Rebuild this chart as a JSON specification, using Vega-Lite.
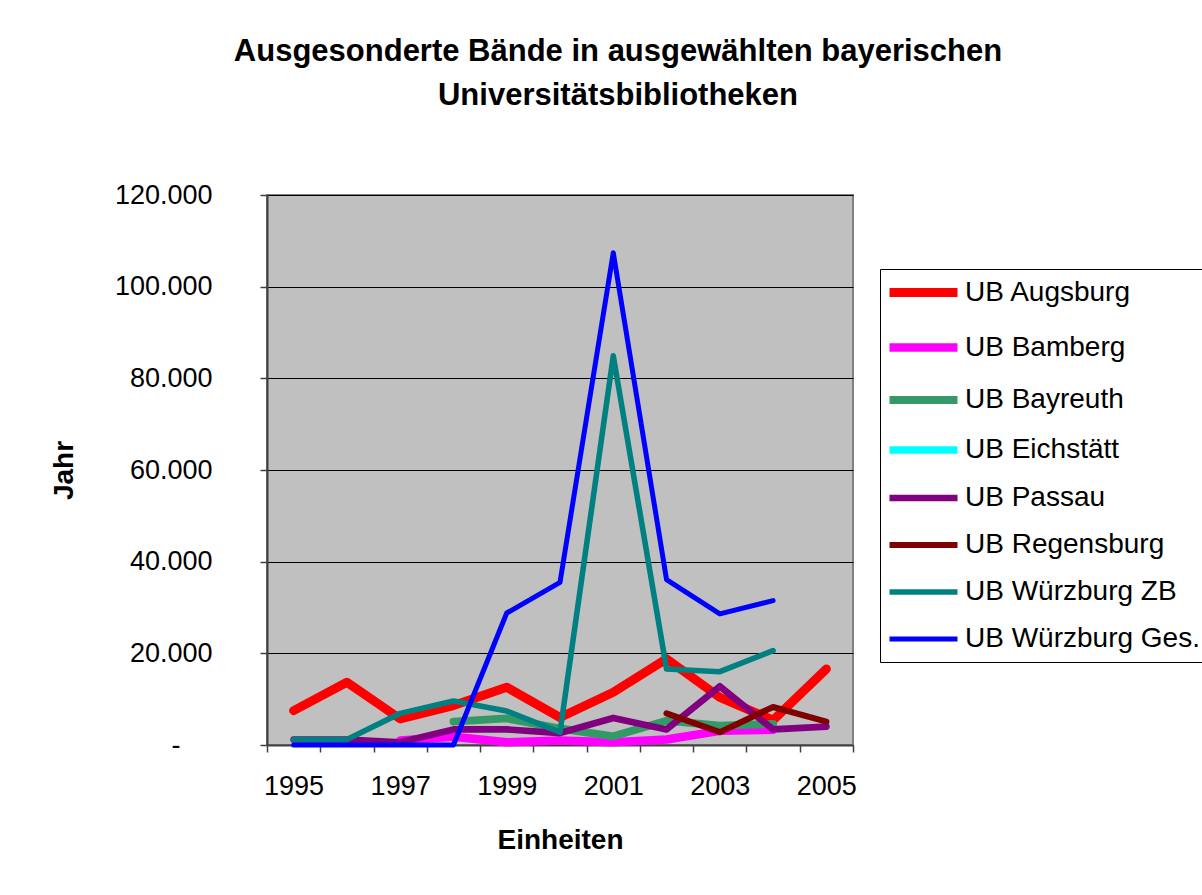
{
  "$schema": "https://vega.github.io/schema/vega-lite/v6.json",
  "autosize": "none",
  "width": 586,
  "height": 550,
  "padding": {"left": 267, "top": 195, "right": 349, "bottom": 150},
  "background": "white",
  "title": {
    "text": ["Ausgesonderte Bände in ausgewählten bayerischen", "Universitätsbibliotheken"],
    "font": "Liberation Sans",
    "fontSize": 31,
    "fontWeight": "bold",
    "color": "black",
    "lineHeight": 44,
    "anchor": "middle",
    "dx": 58,
    "offset": 69
  },
  "data": {
    "values": [
      {"year": 1995, "series": "UB Augsburg", "value": 7500},
      {"year": 1996, "series": "UB Augsburg", "value": 13700},
      {"year": 1997, "series": "UB Augsburg", "value": 5700},
      {"year": 1998, "series": "UB Augsburg", "value": 8600},
      {"year": 1999, "series": "UB Augsburg", "value": 12600},
      {"year": 2000, "series": "UB Augsburg", "value": 6000},
      {"year": 2001, "series": "UB Augsburg", "value": 11500},
      {"year": 2002, "series": "UB Augsburg", "value": 18800},
      {"year": 2003, "series": "UB Augsburg", "value": 10400},
      {"year": 2004, "series": "UB Augsburg", "value": 5400},
      {"year": 2005, "series": "UB Augsburg", "value": 16600},
      {"year": 1997, "series": "UB Bamberg", "value": 1000},
      {"year": 1998, "series": "UB Bamberg", "value": 1800},
      {"year": 1999, "series": "UB Bamberg", "value": 600},
      {"year": 2000, "series": "UB Bamberg", "value": 1000},
      {"year": 2001, "series": "UB Bamberg", "value": 600},
      {"year": 2002, "series": "UB Bamberg", "value": 1200},
      {"year": 2003, "series": "UB Bamberg", "value": 3100},
      {"year": 2004, "series": "UB Bamberg", "value": 3300},
      {"year": 1998, "series": "UB Bayreuth", "value": 5100},
      {"year": 1999, "series": "UB Bayreuth", "value": 5800},
      {"year": 2000, "series": "UB Bayreuth", "value": 3600},
      {"year": 2001, "series": "UB Bayreuth", "value": 1900},
      {"year": 2002, "series": "UB Bayreuth", "value": 5300},
      {"year": 2003, "series": "UB Bayreuth", "value": 4200},
      {"year": 2004, "series": "UB Bayreuth", "value": 4600},
      {"year": 1995, "series": "UB Passau", "value": 1200},
      {"year": 1996, "series": "UB Passau", "value": 1200},
      {"year": 1997, "series": "UB Passau", "value": 600},
      {"year": 1998, "series": "UB Passau", "value": 3400},
      {"year": 1999, "series": "UB Passau", "value": 3400},
      {"year": 2000, "series": "UB Passau", "value": 2600},
      {"year": 2001, "series": "UB Passau", "value": 5900},
      {"year": 2002, "series": "UB Passau", "value": 3400},
      {"year": 2003, "series": "UB Passau", "value": 12800},
      {"year": 2004, "series": "UB Passau", "value": 3400},
      {"year": 2005, "series": "UB Passau", "value": 4000},
      {"year": 2002, "series": "UB Regensburg", "value": 6900},
      {"year": 2003, "series": "UB Regensburg", "value": 2800},
      {"year": 2004, "series": "UB Regensburg", "value": 8300},
      {"year": 2005, "series": "UB Regensburg", "value": 5100},
      {"year": 1995, "series": "UB Würzburg ZB", "value": 1200},
      {"year": 1996, "series": "UB Würzburg ZB", "value": 1200},
      {"year": 1997, "series": "UB Würzburg ZB", "value": 6900},
      {"year": 1998, "series": "UB Würzburg ZB", "value": 9600},
      {"year": 1999, "series": "UB Würzburg ZB", "value": 7400},
      {"year": 2000, "series": "UB Würzburg ZB", "value": 2800},
      {"year": 2001, "series": "UB Würzburg ZB", "value": 84900},
      {"year": 2002, "series": "UB Würzburg ZB", "value": 16600},
      {"year": 2003, "series": "UB Würzburg ZB", "value": 16000},
      {"year": 2004, "series": "UB Würzburg ZB", "value": 20600},
      {"year": 1995, "series": "UB Würzburg Ges.", "value": 0},
      {"year": 1996, "series": "UB Würzburg Ges.", "value": 0},
      {"year": 1997, "series": "UB Würzburg Ges.", "value": 0},
      {"year": 1998, "series": "UB Würzburg Ges.", "value": 0},
      {"year": 1999, "series": "UB Würzburg Ges.", "value": 28800},
      {"year": 2000, "series": "UB Würzburg Ges.", "value": 35500},
      {"year": 2001, "series": "UB Würzburg Ges.", "value": 107400},
      {"year": 2002, "series": "UB Würzburg Ges.", "value": 36100},
      {"year": 2003, "series": "UB Würzburg Ges.", "value": 28600},
      {"year": 2004, "series": "UB Würzburg Ges.", "value": 31500}
    ]
  },
  "mark": {"type": "line", "strokeJoin": "round", "strokeCap": "round"},
  "encoding": {
    "x": {
      "field": "year",
      "type": "quantitative",
      "scale": {"domain": [1994.5, 2005.5], "nice": false, "zero": false},
      "axis": {
        "title": "Einheiten",
        "values": [1994.5, 1995.5, 1996.5, 1997.5, 1998.5, 1999.5, 2000.5, 2001.5, 2002.5, 2003.5, 2004.5, 2005.5],
        "labelExpr": "((datum.value + 0.5) % 2 == 1 && datum.value < 2005) ? format(datum.value + 0.5, 'd') : ''",
        "labelOffset": 26.6,
        "labelFlush": false,
        "labelOverlap": false,
        "labelBound": false,
        "grid": false,
        "tickSize": 7,
        "labelPadding": 21,
        "titlePadding": 27
      }
    },
    "y": {
      "field": "value",
      "type": "quantitative",
      "scale": {"domain": [0, 120000], "nice": false},
      "axis": {
        "title": "Jahr",
        "values": [0, 20000, 40000, 60000, 80000, 100000, 120000],
        "labelExpr": "datum.value == 0 ? '-' : replace(format(datum.value, ','), ',', '.')",
        "labelPadding": {"condition": {"test": "datum.value == 0", "value": 80}, "value": 48},
        "grid": true,
        "tickSize": 7,
        "titlePadding": 36
      }
    },
    "color": {
      "field": "series",
      "type": "nominal",
      "scale": {
        "domain": ["UB Augsburg", "UB Bamberg", "UB Bayreuth", "UB Eichstätt", "UB Passau", "UB Regensburg", "UB Würzburg ZB", "UB Würzburg Ges."],
        "range": ["#FF0000", "#FF00FF", "#339966", "#00FFFF", "#800080", "#800000", "#008080", "#0000FF"]
      },
      "legend": {"title": null, "labelExpr": "datum.label + '\u00a0\u00a0\u00a0'"}
    },
    "strokeWidth": {
      "field": "series",
      "type": "nominal",
      "scale": {
        "domain": ["UB Augsburg", "UB Bamberg", "UB Bayreuth", "UB Eichstätt", "UB Passau", "UB Regensburg", "UB Würzburg ZB", "UB Würzburg Ges."],
        "range": [9, 5, 5, 2, 5, 5, 2, 2]
      },
      "legend": {"title": null, "labelExpr": "datum.label + '\u00a0\u00a0\u00a0'"}
    },
    "order": {"field": "year", "type": "quantitative"}
  },
  "config": {
    "font": "Liberation Sans",
    "view": {"fill": "#C0C0C0", "stroke": "#808080", "strokeWidth": 2},
    "axis": {
      "labelFont": "Liberation Sans",
      "labelFontSize": 27,
      "labelColor": "black",
      "titleFont": "Liberation Sans",
      "titleFontSize": 28,
      "titleFontWeight": "bold",
      "titleColor": "black",
      "domainColor": "#404040",
      "domainWidth": 2,
      "tickColor": "#404040",
      "tickWidth": 1.5,
      "gridColor": "black",
      "gridWidth": 1,
      "gridOpacity": 1
    },
    "legend": {
      "orient": "none",
      "legendX": 613,
      "legendY": 74,
      "strokeColor": "black",
      "strokeWidth": 1,
      "fillColor": "white",
      "padding": 9,
      "symbolType": "M-3.4,0H3.4",
      "symbolSize": 400,
      "symbolOffset": 20,
      "labelOffset": 27,
      "labelFont": "Liberation Sans",
      "labelFontSize": 28,
      "labelColor": "black",
      "labelLimit": 400,
      "rowPadding": 19
    }
  }
}
